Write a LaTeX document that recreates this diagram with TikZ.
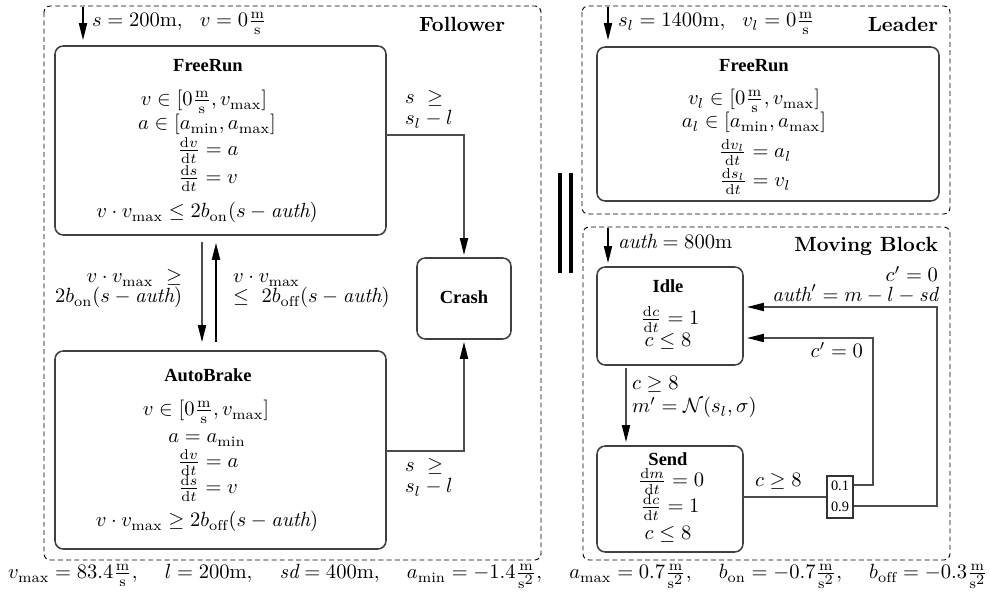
\documentclass[tikz,border=0pt]{standalone}
\usepackage{amsmath,amssymb}
\usepackage{fontspec}
\newfontfamily\tbf{Liberation Serif}
\usetikzlibrary{arrows.meta}
\newcommand{\U}{0.4866pt}
\newcommand{\unitms}{\frac{\mathrm{m}}{\mathrm{s}}}
\newcommand{\unitmss}{\frac{\mathrm{m}}{\mathrm{s}^{\scriptstyle 2}}}
\newcommand{\pgap}{\hspace{11.6pt}}
\begin{document}
\begin{tikzpicture}[x=\U,y=-\U,
  txt/.style={inner sep=0pt,outer sep=0pt},
  head/.style={inner sep=0pt,outer sep=0pt,font=\tbf\bfseries\fontsize{9}{11}\selectfont},
  title/.style={inner sep=0pt,outer sep=0pt,font=\bfseries},
  frame/.style={draw=black,dash pattern=on 2.4pt off 1.6pt,rounded corners=3pt,line width=0.45pt},
  statebox/.style={draw=black!75,rounded corners=4pt,line width=0.75pt,inner sep=0pt,outer sep=0pt},
  conn/.style={draw=black!70,line width=0.55pt},
  arr/.style={conn,-{Triangle[length=8.2pt,width=4pt,color=black]}},
  bar/.style={line width=2.4pt,draw=black}]
\useasboundingbox (0,0) rectangle (990,592);
% frames
\draw[frame] (44,6) rectangle (541,560);
\draw[frame] (582,6) rectangle (950,214);
\draw[frame] (583,227) rectangle (950,560);
% separator bars
\draw[bar] (560,173) -- (560,273);
\draw[bar] (571,173) -- (571,273);
% titles
\node[title,anchor=base east] (tfol) at (505,32) {Follower};
\node[title,anchor=base east] (tlead) at (938,32) {Leader};
\node[title,anchor=base east] (tmb) at (938,252) {Moving Block};
% state boxes
\node[statebox,minimum width=331*\U,minimum height=189*\U] (frF) at (220.5,140.5) {};
\node[statebox,minimum width=331*\U,minimum height=198*\U] (ab) at (220.5,450) {};
\node[statebox,minimum width=94*\U,minimum height=81*\U] (crash) at (464,298.5) {};
\node[statebox,minimum width=342*\U,minimum height=154*\U] (frL) at (768,124) {};
\node[statebox,minimum width=146*\U,minimum height=98*\U] (idle) at (670,316) {};
\node[statebox,minimum width=146*\U,minimum height=106*\U] (send) at (670,499) {};
\node[draw=black!80,line width=0.5pt,minimum width=26*\U,minimum height=42*\U,inner sep=0pt] (prob) at (840,497) {};
% initial arrows
\coordinate (i1s) at (83,7); \coordinate (i1e) at (83,40);
\coordinate (i2s) at (608,7); \coordinate (i2e) at (608,40);
\coordinate (i3s) at (608,228); \coordinate (i3e) at (608,263);
\draw[arr,draw=black] (i1s) -- (i1e);
\draw[arr,draw=black] (i2s) -- (i2e);
\draw[arr,draw=black] (i3s) -- (i3e);
\node[txt,anchor=base west] (init1) at (92,27) {$s=200\mathrm{m},\ \ v=0\unitms$};
\node[txt,anchor=base west] (init2) at (618,27) {$s_l=1400\mathrm{m},\ \ v_l=0\unitms$};
\node[txt,anchor=base west] (init3) at (618,249) {$\mathit{auth}=800\mathrm{m}$};
% Follower FreeRun
\node[head,anchor=base] (h1) at (208,72) {FreeRun};
\node[txt,anchor=base] (f1) at (204,106) {$v\in[0\unitms,v_{\max}]$};
\node[txt,anchor=base] (f2) at (207,130) {$a\in[a_{\min},a_{\max}]$};
\node[txt,anchor=base] (f3) at (208,156) {$\frac{\mathrm{d}v}{\mathrm{d}t}=a$};
\node[txt,anchor=base] (f4) at (208,184) {$\frac{\mathrm{d}s}{\mathrm{d}t}=v$};
\node[txt,anchor=base] (f5) at (207,218) {$v\cdot v_{\max}\leq 2b_{\mathrm{on}}(s-\mathit{auth})$};
% AutoBrake
\node[head,anchor=base] (h2) at (208,382) {AutoBrake};
\node[txt,anchor=base] (a1) at (206,416) {$v\in[0\unitms,v_{\max}]$};
\node[txt,anchor=base] (a2) at (207,443) {$a=a_{\min}$};
\node[txt,anchor=base] (a3) at (208,468) {$\frac{\mathrm{d}v}{\mathrm{d}t}=a$};
\node[txt,anchor=base] (a4) at (208,494) {$\frac{\mathrm{d}s}{\mathrm{d}t}=v$};
\node[txt,anchor=base] (a5) at (207,527) {$v\cdot v_{\max}\geq 2b_{\mathrm{off}}(s-\mathit{auth})$};
% Crash
\node[head,anchor=base] (h3) at (464,304) {Crash};
% Leader FreeRun
\node[head,anchor=base] (h4) at (754,72) {FreeRun};
\node[txt,anchor=base] (l1) at (754,105) {$v_l\in[0\unitms,v_{\max}]$};
\node[txt,anchor=base] (l2) at (754,128) {$a_l\in[a_{\min},a_{\max}]$};
\node[txt,anchor=base] (l3) at (755,158) {$\frac{\mathrm{d}v_l}{\mathrm{d}t}=a_l$};
\node[txt,anchor=base] (l4) at (755,187) {$\frac{\mathrm{d}s_l}{\mathrm{d}t}=v_l$};
% Idle
\node[head,anchor=base] (h5) at (668,293) {Idle};
\node[txt,anchor=base] (d1) at (670,325) {$\frac{\mathrm{d}c}{\mathrm{d}t}=1$};
\node[txt,anchor=base] (d2) at (668,347) {$c\leq 8$};
% Send
\node[head,anchor=base] (h6) at (668,466) {Send};
\node[txt,anchor=base] (e1) at (671,487) {$\frac{\mathrm{d}m}{\mathrm{d}t}=0$};
\node[txt,anchor=base] (e2) at (670,513) {$\frac{\mathrm{d}c}{\mathrm{d}t}=1$};
\node[txt,anchor=base] (e3) at (668,540) {$c\leq 8$};
% prob labels
\node[inner sep=0pt,font=\tbf\fontsize{7}{8}\selectfont] (p1) at (840,486) {0.1};
\node[inner sep=0pt,font=\tbf\fontsize{7}{8}\selectfont] (p2) at (840,507) {0.9};
% Follower transitions
\draw[arr] (frF.east |- 0,135) -| ([yshift=1.5pt]crash.north);
\draw[arr] (ab.east |- 0,451) -| ([yshift=-1.5pt]crash.south);
\draw[arr] ([yshift=-3.4pt]frF.south -| 202,0) -- ([yshift=4.4pt]ab.north -| 202,0);
\draw[arr,draw=black] ([yshift=4.4pt]ab.north -| 216,0) -- ([yshift=-3.9pt]frF.south -| 216,0);
\node[txt,anchor=base west] (c1a) at (405,104) {$s\ \geq$};
\node[txt,anchor=base west] (c1b) at (405,125) {$s_l-l$};
\node[txt,anchor=base west] (c2a) at (405,472) {$s\ \geq$};
\node[txt,anchor=base west] (c2b) at (405,493) {$s_l-l$};
\node[txt,anchor=base east] (t1a) at (182,283) {$v\cdot v_{\max}\ \geq$};
\node[txt,anchor=base east] (t1b) at (182,303) {$2b_{\mathrm{on}}(s-\mathit{auth})$};
\node[txt,anchor=base west] (t2a) at (233,283) {$v\cdot v_{\max}$};
\node[txt,anchor=base west] (t2b) at (233,303) {$\leq\ 2b_{\mathrm{off}}(s-\mathit{auth})$};
% Moving block transitions
\draw[arr] ([yshift=-1.5pt]idle.south -| 626,0) -- ([yshift=2pt]send.north -| 626,0);
\draw[conn] (send.east |- 0,497) -- (prob.west |- 0,497);
\draw[arr] (prob.east |- 0,485) -| (873,338) -- ([xshift=2pt]idle.east |- 0,338);
\draw[arr] (prob.east |- 0,506) -| (937,307) -- ([xshift=2pt]idle.east |- 0,307);
\node[txt,anchor=base west] (m1) at (632,390) {$c\geq 8$};
\node[txt,anchor=base west] (m2) at (632,413) {$m'=\mathcal{N}(s_l,\sigma)$};
\node[txt,anchor=base west] (m3) at (755,487) {$c\geq 8$};
\node[txt,anchor=base east] (m4) at (863,358) {$c'=0$};
\node[txt,anchor=base east] (m5) at (938,282) {$c'=0$};
\node[txt,anchor=base east] (m6) at (938,302) {$\mathit{auth}'=m-l-\mathit{sd}$};
% bottom parameters
\node[txt,anchor=base] (params) at (498,579) {$v_{\max}=83.4\unitms,\pgap l=200\mathrm{m},\pgap \mathit{sd}=400\mathrm{m},\pgap a_{\min}=-1.4\unitmss,\pgap a_{\max}=0.7\unitmss,\pgap b_{\mathrm{on}}=-0.7\unitmss,\pgap b_{\mathrm{off}}=-0.3\unitmss$};
\end{tikzpicture}
\end{document}
